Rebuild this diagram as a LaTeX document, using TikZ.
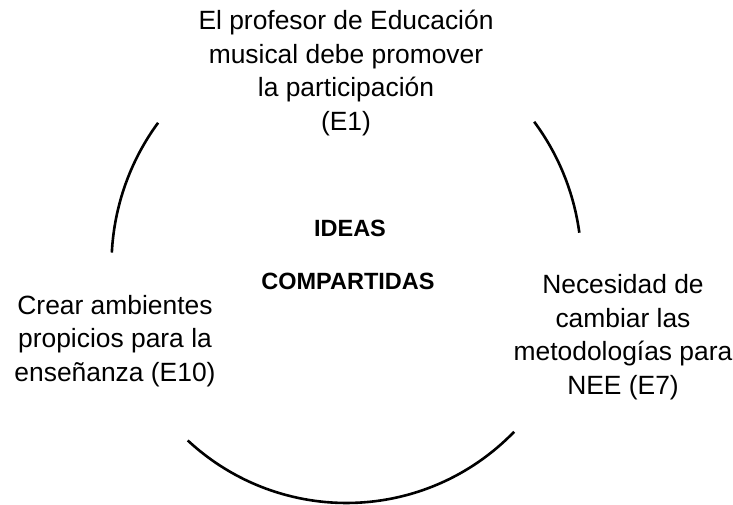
\documentclass[tikz,border=0pt]{standalone}
\usepackage{fontspec}
\setmainfont{Liberation Sans}
\usetikzlibrary{calc}
\begin{document}
\begin{tikzpicture}[x=1pt,y=1pt,
  lbl/.style={inner sep=0pt, align=center, font=\fontsize{26.4}{33.5}\selectfont},
  ttl/.style={inner sep=0pt, font=\fontsize{23.5}{28}\selectfont\bfseries},
  ring/.style={line width=2.6pt, black}]
\useasboundingbox (0,0) rectangle (733,504);
\coordinate (c) at (346.5,239);
\node[lbl] (e1) at (346,431) {El profesor de Educación\\musical debe promover\\la participación\\(E1)};
\node[lbl] (e10) at (115,163) {Crear ambientes\\propicios para la\\enseñanza (E10)};
\node[lbl] (e7) at (623,167) {Necesidad de\\cambiar las\\metodologías para\\NEE (E7)};
\node[ttl] (ideas) at (350,276) {IDEAS};
\node[ttl] (comp) at (348,223) {COMPARTIDAS};
\draw[ring] ($(c)+(143.3:235 and 238)$) arc[start angle=143.3, end angle=177, x radius=235, y radius=238];
\draw[ring] ($(c)+(37:235 and 238)$) arc[start angle=37, end angle=7.8, x radius=235, y radius=238];
\draw[ring] ($(c)+(227.5:235 and 238)$) arc[start angle=227.5, end angle=315.5, x radius=235, y radius=238];
\end{tikzpicture}
\end{document}
